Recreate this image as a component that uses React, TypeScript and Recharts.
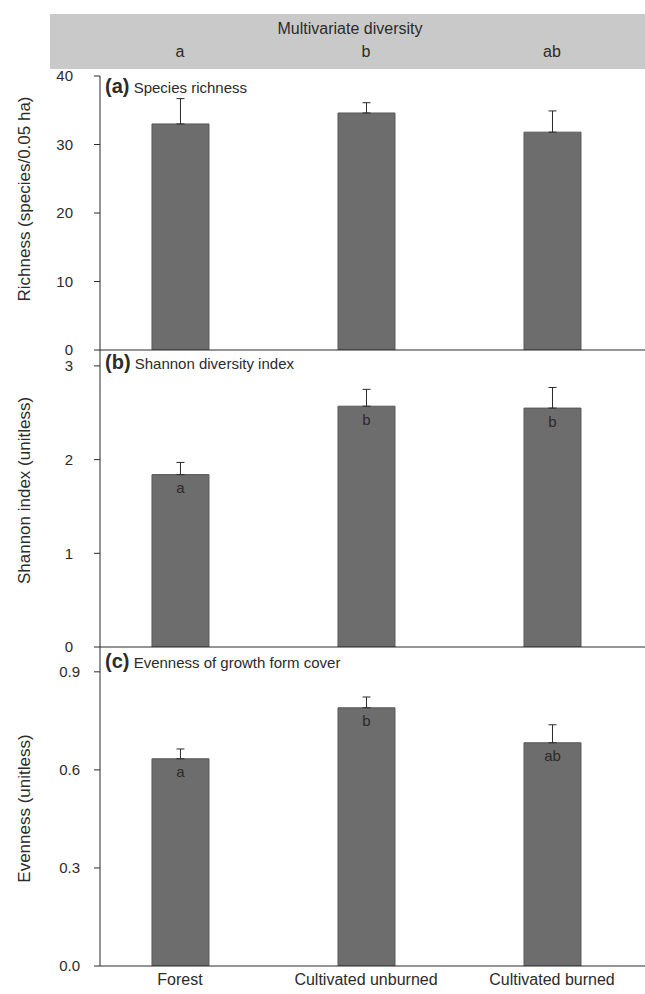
import { BarChart, Bar, XAxis, YAxis, ErrorBar, LabelList, Label } from "recharts"

const categories = ["Forest", "Cultivated unburned", "Cultivated burned"]
const multivariateLetters = ["a", "b", "ab"]

const richness = [33.0, 34.6, 31.8]
const richnessSE = [3.7, 1.5, 3.1]

const shannon = [1.84, 2.57, 2.55]
const shannonSE = [0.13, 0.18, 0.22]
const shannonLetters = ["a", "b", "b"]

const evenness = [0.634, 0.79, 0.683]
const evennessSE = [0.03, 0.033, 0.055]
const evennessLetters = ["a", "b", "ab"]

const FONT = "'Liberation Sans', Arial, Helvetica, sans-serif"
const BAR = "#6d6d6d"
const INK = "#2b2b2b"
const X_DOMAIN: [number, number] = [-0.43, 2.5]

const rows = (vals: number[], se: number[], letters?: string[]) =>
  categories.map((c, i) => ({ idx: i, name: c, value: vals[i], err: [0, se[i]], letter: letters ? letters[i] : "" }))

const richRows = rows(richness, richnessSE)
const shanRows = rows(shannon, shannonSE, shannonLetters)
const evenRows = rows(evenness, evennessSE, evennessLetters)

const tickStyle = { fontSize: 15, fill: INK, fontFamily: FONT }

function yTitle(text: string, shift = 0) {
  return (props: any) => {
    const vb = props.viewBox || {}
    const cx = 24
    const cy = vb.y + vb.height / 2 + shift
    return (
      <text x={cx} y={cy} transform={`rotate(-90, ${cx}, ${cy})`} textAnchor="middle" dominantBaseline="central"
        fontSize={17} fill={INK} fontFamily={FONT}>
        {text}
      </text>
    )
  }
}

function Panel({ tag, title, top }: { tag: string; title: string; top: number }) {
  return (
    <div style={{ position: "absolute", left: 105, top, fontSize: 15, lineHeight: "20px", color: INK, whiteSpace: "nowrap" }}>
      <span style={{ fontWeight: "bold", fontSize: 20 }}>{tag}</span> {title}
    </div>
  )
}

export default function App() {
  return (
    <div style={{ position: "absolute", left: 0, top: 0, width: 645, height: 994, background: "#fff", fontFamily: FONT, overflow: "hidden" }}>
      <div style={{ position: "absolute", left: 50, top: 14, width: 595, height: 55, background: "#c9c9c9" }} />
      <div style={{ position: "absolute", left: 250, top: 20, width: 200, textAlign: "center", fontSize: 16, color: INK }}>
        Multivariate diversity
      </div>

      <div style={{ position: "absolute", left: 0, top: 0 }}>
        <BarChart width={645} height={362} data={richRows} margin={{ top: 46, right: 0, bottom: 10, left: 0 }}>
          <XAxis xAxisId="top" orientation="top" type="number" dataKey="idx" domain={X_DOMAIN} allowDataOverflow
            ticks={[0, 1, 2]} tickFormatter={(v: number) => multivariateLetters[v]} axisLine={false} tickLine={false}
            tickSize={0} tickMargin={19} height={30} tick={{ ...tickStyle, fontSize: 16 }} interval={0} />
          <XAxis type="number" dataKey="idx" domain={X_DOMAIN} allowDataOverflow ticks={[0, 1, 2]} tick={false}
            tickLine={false} height={2} stroke={INK} />
          <YAxis domain={[0, 40]} ticks={[0, 10, 20, 30, 40]} interval={0} width={100} tickSize={6} tickMargin={21}
            stroke={INK} tick={tickStyle} allowDataOverflow>
            <Label content={yTitle("Richness (species/0.05 ha)", -14)} />
          </YAxis>
          <Bar dataKey="value" barSize={57} fill={BAR} stroke="#595959" isAnimationActive={false}>
            <ErrorBar dataKey="err" width={4} stroke={INK} strokeWidth={1} isAnimationActive={false} />
          </Bar>
        </BarChart>
      </div>

      <div style={{ position: "absolute", left: 0, top: 340 }}>
        <BarChart width={645} height={319} data={shanRows} margin={{ top: 10, right: 0, bottom: 10, left: 0 }}>
          <XAxis type="number" dataKey="idx" domain={X_DOMAIN} allowDataOverflow ticks={[0, 1, 2]} tick={false}
            tickLine={false} height={2} stroke={INK} />
          <YAxis domain={[0, 3.17]} ticks={[0, 1, 2, 3]} interval={0} width={100} tickSize={6} tickMargin={21}
            stroke={INK} tick={tickStyle} allowDataOverflow>
            <Label content={yTitle("Shannon index (unitless)", -8)} />
          </YAxis>
          <Bar dataKey="value" barSize={57} fill={BAR} stroke="#595959" isAnimationActive={false}>
            <ErrorBar dataKey="err" width={4} stroke={INK} strokeWidth={1} isAnimationActive={false} />
            <LabelList dataKey="letter" position="insideTop" offset={8} style={{ fontSize: 15, fill: INK, fontFamily: FONT }} />
          </Bar>
        </BarChart>
      </div>

      <div style={{ position: "absolute", left: 0, top: 637 }}>
        <BarChart width={645} height={357} data={evenRows} margin={{ top: 10, right: 0, bottom: 0, left: 0 }}>
          <XAxis type="number" dataKey="idx" domain={X_DOMAIN} allowDataOverflow ticks={[0, 1, 2]} interval={0}
            tickFormatter={(v: number) => categories[v]} tickLine={false} height={28} stroke={INK}
            tick={{ ...tickStyle, fontSize: 16 }} />
          <YAxis domain={[0, 0.976]} ticks={[0, 0.3, 0.6, 0.9]} interval={0} tickFormatter={(v: number) => v.toFixed(1)}
            width={100} tickSize={6} tickMargin={14} stroke={INK} tick={tickStyle} allowDataOverflow>
            <Label content={yTitle("Evenness (unitless)", 2)} />
          </YAxis>
          <Bar dataKey="value" barSize={57} fill={BAR} stroke="#595959" isAnimationActive={false}>
            <ErrorBar dataKey="err" width={4} stroke={INK} strokeWidth={1} isAnimationActive={false} />
            <LabelList dataKey="letter" position="insideTop" offset={8} style={{ fontSize: 15, fill: INK, fontFamily: FONT }} />
          </Bar>
        </BarChart>
      </div>

      <Panel tag="(a)" title="Species richness" top={76} />
      <Panel tag="(b)" title="Shannon diversity index" top={352} />
      <Panel tag="(c)" title="Evenness of growth form cover" top={651} />
    </div>
  )
}
